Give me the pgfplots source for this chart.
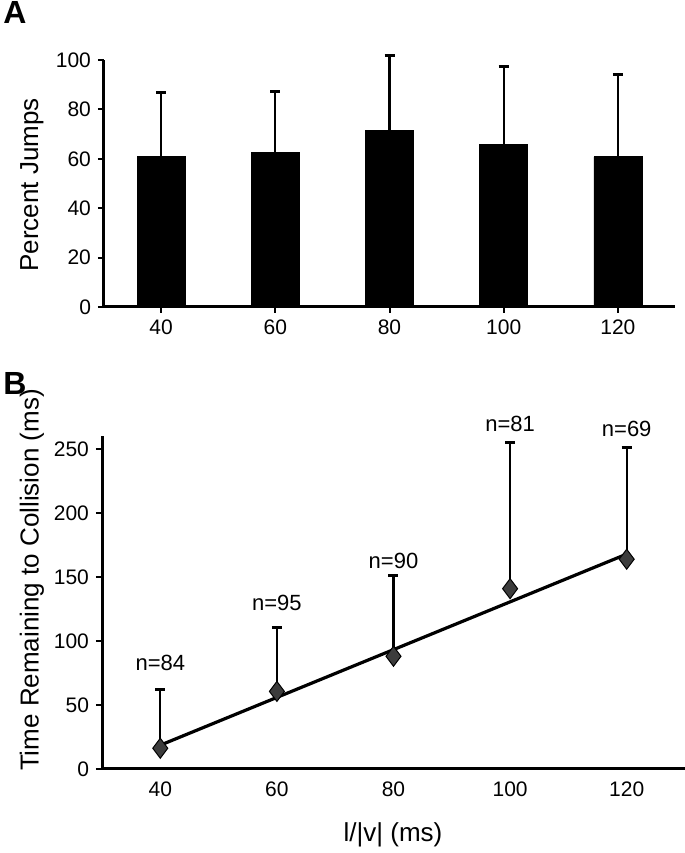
\documentclass[border=0pt]{standalone}
\usepackage{fontspec}
\setmainfont{Liberation Sans}
\usepackage{pgfplots}
\pgfplotsset{compat=1.18}
\definecolor{mk}{HTML}{3C3C3C}
\begin{document}
\begin{tikzpicture}
\useasboundingbox (0,0) rectangle (342.5pt,426.5pt);
\pgfplotsset{
  common/.style={
    scale only axis,
    xmin=30, xmax=130, ymin=0,
    enlargelimits=false,
    axis x line=bottom, axis y line=left,
    axis line style={-, line width=1.5pt},
    xtick={40,60,80,100,120},
    tick align=outside, major tick length=3pt,
    tick style={line width=1pt, black},
    ticklabel style={font=\fontsize{10.5}{12}\selectfont},
    /pgf/number format/assume math mode=true,
    clip=false,
  },
  ebar/.style={
    error bars/.cd, y dir=plus, y explicit,
    error bar style={draw=black, solid, line width=1.1pt},
    error mark=-,
    error mark options={draw=black, rotate=90, line width=1.5pt, mark size=2.5pt},
  }
}
% Panel A
\begin{axis}[common,
  at={(52pt,273pt)}, anchor=south west,
  width=285.5pt, height=123.5pt,
  ymax=100, ytick={0,20,40,60,80,100},
  ybar, bar width=24pt,
]
\addplot[fill=black, draw=black, ebar]
coordinates {
  (40,60.8)  +- (0,26.0)
  (60,62.6)  +- (0,24.6)
  (80,71.5)  +- (0,30.5)
  (100,65.8) +- (0,31.5)
  (120,60.8) +- (0,33.3)
};
\end{axis}
% Panel B
\begin{axis}[common,
  at={(51pt,42pt)}, anchor=south west,
  width=291.5pt, height=166.5pt,
  ymax=260, ytick={0,50,100,150,200,250},
  xtick style={draw=none},
]
\addplot[draw=none, mark=none, ebar]
coordinates {
  (40,16.2)  +- (0,46.0)
  (60,60.6)  +- (0,50.2)
  (80,88.0)  +- (0,62.7)
  (100,140.8) +- (0,114.5)
  (120,163.8) +- (0,87.5)
};
\addplot[only marks, mark=diamond*, mark size=5pt,
  mark options={fill=mk, draw=black, line width=0.5pt}]
coordinates {
  (40,16.2) (60,60.6) (80,88.0) (100,140.8) (120,163.8)
};
\addplot[black, line width=1.6pt, mark=none]
coordinates { (40,18.6) (120,167.8) };
\node[font=\fontsize{11}{12}\selectfont] at (axis cs:40,82.5) {n=84};
\node[font=\fontsize{11}{12}\selectfont] at (axis cs:60,129.8) {n=95};
\node[font=\fontsize{11}{12}\selectfont] at (axis cs:80,162.5) {n=90};
\node[font=\fontsize{11}{12}\selectfont] at (axis cs:100,269.6) {n=81};
\node[font=\fontsize{11}{12}\selectfont] at (axis cs:120,265.7) {n=69};
\end{axis}
% Labels
\node[font=\fontsize{16}{18}\selectfont\bfseries] at (7.5pt,420.5pt) {A};
\node[font=\fontsize{16}{18}\selectfont\bfseries] at (7.5pt,235pt) {B};
\node[rotate=90, font=\fontsize{13}{15}\selectfont] at (16pt,334pt) {Percent Jumps};
\node[rotate=90, font=\fontsize{13}{15}\selectfont] at (16pt,136.5pt) {Time Remaining to Collision (ms)};
\node[font=\fontsize{13}{15}\selectfont] at (196.5pt,9pt) {l/|v| (ms)};
\end{tikzpicture}
\end{document}
